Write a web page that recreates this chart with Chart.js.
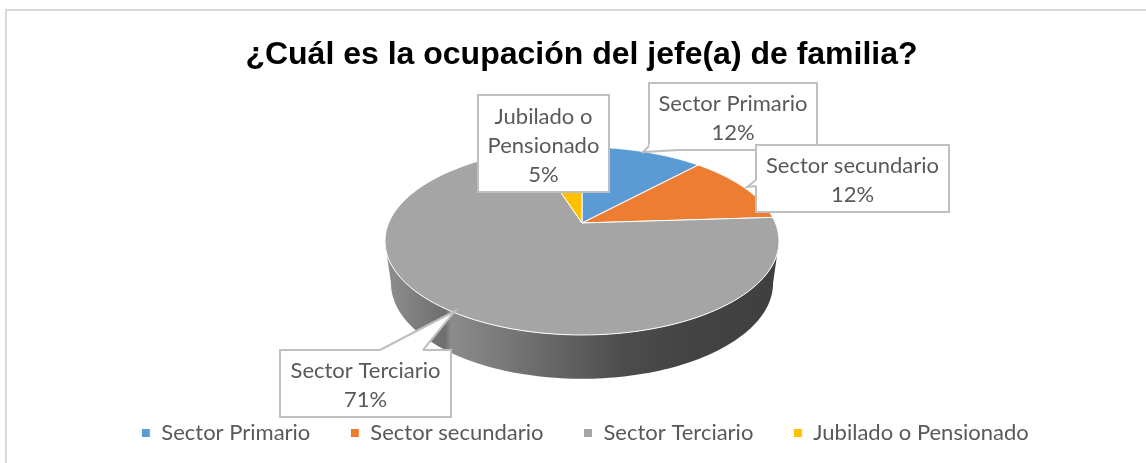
<!DOCTYPE html>
<html><head><meta charset="utf-8">
<style>html,body{margin:0;padding:0;background:#fff}#w{position:relative;width:1146px;height:463px}</style>
<script src="https://cdn.jsdelivr.net/npm/chart.js@4/dist/chart.umd.js"></script>
</head><body><div id="w"><canvas id="c" width="1146" height="463"></canvas></div>
<script>
const titleText = '¿Cuál es la ocupación del jefe(a) de familia?';
const categories = ['Sector Primario', 'Sector secundario', 'Sector Terciario', 'Jubilado o Pensionado'];
const shares = [12, 12, 71, 5];
const colors = ['#5B9BD5', '#ED7D31', '#A5A5A5', '#FFC000'];
const calloutLines = [['Sector Primario'], ['Sector secundario'], ['Sector Terciario'], ['Jubilado o', 'Pensionado']];

/* Perspective projection of the pie's circle */
const P = {x:582, y:223, rx:193.4, ry:90.55, tilt:0.1915, lowerRx:187.5, lowerRy:92, lowerY:265};
const project = (th, f, lower) => {
  const u = Math.cos(th)*f, v = Math.sin(th)*f, w = 1 - P.tilt*v;
  return lower ? [P.x + P.lowerRx*u/w, P.lowerY + P.lowerRy*v/w]
               : [P.x + P.rx*u/w, P.y + P.ry*v/w];
};
const FRONT0 = Math.asin(P.tilt), FRONT1 = Math.PI - FRONT0;

class Arc3D extends Chart.ArcElement {
  draw(ctx) {
    const {startAngle, endAngle} = this.getProps(['startAngle','endAngle']);
    const o = this.options, N = 120;
    const s = Math.max(startAngle, FRONT0), e = Math.min(endAngle, FRONT1);
    ctx.save();
    if (e > s) {
      const g = ctx.createLinearGradient(386,0,779,0);
      [[0,'#8f8f8f'],[0.15,'#6e6e6e'],[0.165,'#8c8c8c'],[0.6,'#4d4d4d'],[0.75,'#444444'],[1,'#3f3f3f']]
        .forEach(([t,c])=>g.addColorStop(t,c));
      ctx.beginPath();
      for (let i=0;i<=N;i++){const p=project(s+(e-s)*i/N,1,false); i?ctx.lineTo(p[0],p[1]):ctx.moveTo(p[0],p[1]);}
      for (let i=N;i>=0;i--){const p=project(s+(e-s)*i/N,1,true); ctx.lineTo(p[0],p[1]);}
      ctx.closePath(); ctx.fillStyle=g; ctx.fill();
    }
    ctx.beginPath(); ctx.moveTo(P.x,P.y);
    for (let i=0;i<=N;i++){const p=project(startAngle+(endAngle-startAngle)*i/N,1,false); ctx.lineTo(p[0],p[1]);}
    ctx.closePath();
    ctx.fillStyle=o.backgroundColor; ctx.fill();
    ctx.lineJoin='round'; ctx.lineWidth=o.borderWidth; ctx.strokeStyle=o.borderColor; ctx.stroke();
    ctx.restore();
  }
}
Arc3D.id='arc3d'; Arc3D.defaults=Chart.ArcElement.defaults; Arc3D.defaultRoutes=Chart.ArcElement.defaultRoutes;
Chart.register(Arc3D);
Chart.defaults.datasets.pie.dataElementType='arc3d';

/* Callout geometry: box [left, top, right, bottom], wedge base + tip */
const boxes = [
 {b:[649,83,817,150], w:[[649,146],[678,150],[643,152]]},
 {b:[756,145,949,212], w:[[756,180],[756,186],[747,187]]},
 {b:[280,350,451,417], w:[[380,350],[423,350],[455,311]]},
 {b:[478,95,609,192], w:null}
];
const labelFont = '22px Lato, Carlito, sans-serif';
const lineStep = 29;
const callouts = {
  id:'callouts',
  afterLayout(c){ c.legend.left += 3.5; c.legend.right += 3.5; },
  beforeDraw(c){
    const x=c.ctx; x.save(); x.strokeStyle='#d9d9d9'; x.lineWidth=2;
    x.beginPath(); x.moveTo(6,463); x.lineTo(6,10); x.lineTo(1146,10); x.stroke(); x.restore();
  },
  afterDatasetsDraw(c){
    const x=c.ctx; x.save();
    [2,3,0,1].forEach(i=>{
      const B=boxes[i], [l,t,r,b]=B.b;
      x.lineWidth=2; x.strokeStyle='#bfbfbf'; x.fillStyle='#fff';
      x.beginPath(); x.rect(l,t,r-l,b-t); x.fill(); x.stroke();
      if(B.w){
        x.beginPath(); x.moveTo(...B.w[0]); x.lineTo(...B.w[2]); x.lineTo(...B.w[1]); x.closePath(); x.fill();
        x.beginPath(); x.moveTo(...B.w[0]); x.lineTo(...B.w[1]); x.strokeStyle='#fff'; x.lineWidth=3; x.stroke();
        x.beginPath(); x.moveTo(...B.w[0]); x.lineTo(...B.w[2]); x.lineTo(...B.w[1]); x.strokeStyle='#bfbfbf'; x.lineWidth=2; x.stroke();
      }
      const lines=[...calloutLines[i], shares[i]+'%'];
      x.font=labelFont; x.fillStyle='#595959'; x.textAlign='center'; x.textBaseline='middle';
      const mid=(t+b)/2+2;
      lines.forEach((s,k)=>x.fillText(s,(l+r)/2,mid+(k-(lines.length-1)/2)*lineStep));
    });
    x.restore();
  }
};

new Chart(document.getElementById('c'),{
  type:'pie',
  data:{labels:categories,datasets:[{data:shares,backgroundColor:colors,borderColor:'#ffffff',borderWidth:1}]},
  options:{
    responsive:false,animation:false,
    layout:{padding:{left:17,right:0,top:0,bottom:9}},
    plugins:{
      tooltip:{enabled:false},
      title:{display:true,text:titleText,color:'#000',font:{family:'"Liberation Sans",Arial,sans-serif',size:32,weight:'bold'},padding:{top:36,bottom:0}},
      legend:{position:'bottom',labels:{boxWidth:9,boxHeight:9,padding:40,color:'#595959',font:{family:'Lato,Carlito,sans-serif',size:22}}}
    }
  },
  plugins:[callouts]
});
</script></body></html>
